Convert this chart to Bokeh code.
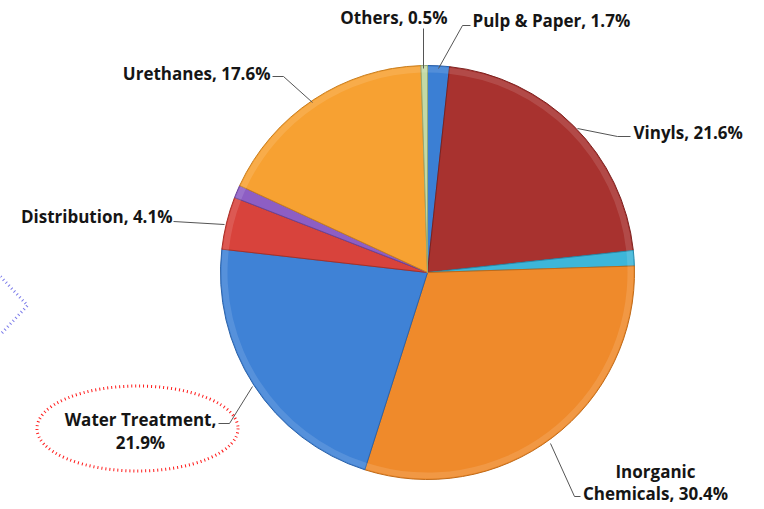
import math
from bokeh.plotting import figure
from bokeh.models import Range1d, ColumnDataSource
from bokeh.core.properties import value
from bokeh.embed import file_html
from bokeh.resources import INLINE

# ---- data ----
segments = ["Pulp & Paper", "Vinyls", "Other A", "Inorganic Chemicals", "Water Treatment",
            "Distribution", "Other B", "Urethanes", "Others"]
shares = [1.7, 21.6, 1.2, 30.4, 21.9, 4.1, 1.0, 17.6, 0.5]
colors = ["#3b7fd4", "#a8322f", "#3db6d9", "#ef8a2b", "#3f82d6",
          "#d8433c", "#8d5ec4", "#f7a132", "#c3d9a6"]
edge_colors = ["#2a5fa8", "#7d2220", "#2a8aaa", "#c06a18", "#2c62a8",
               "#a83028", "#6a4498", "#c87e20", "#93aa78"]

label_texts = {
    "Others": ["Others, 0.5%"],
    "Pulp & Paper": ["Pulp & Paper, 1.7%"],
    "Urethanes": ["Urethanes, 17.6%"],
    "Distribution": ["Distribution, 4.1%"],
    "Vinyls": ["Vinyls, 21.6%"],
    "Water Treatment": ["Water Treatment,", "21.9%"],
    "Inorganic Chemicals": ["Inorganic", "Chemicals, 30.4%"],
}

W, H = 760, 505
IMG_H = 509

def Y(img_y):
    return IMG_H - img_y

p = figure(width=W, height=H, output_backend="svg", toolbar_location=None,
           x_range=Range1d(0, W), y_range=Range1d(IMG_H - H, IMG_H),
           min_border=0)
p.axis.visible = False
p.grid.visible = False
p.outline_line_color = None
p.background_fill_color = "white"

cx, cy, r = 427, Y(272), 207

starts, ends = [], []
cum = 0.0
total = sum(shares)
for s in shares:
    a0 = math.pi / 2 - 2 * math.pi * cum / total
    cum += s
    a1 = math.pi / 2 - 2 * math.pi * cum / total
    starts.append(a0)
    ends.append(a1)

src = ColumnDataSource(dict(start=starts, end=ends, color=colors, edge=edge_colors))
p.wedge(x=cx, y=cy, radius=r, start_angle="start", end_angle="end", direction="clock",
        fill_color="color", line_color="edge", line_width=1, source=src)
# subtle bevel highlight near the rim
p.annular_wedge(x=cx, y=cy, inner_radius=r - 7, outer_radius=r - 1, start_angle="start",
                end_angle="end", direction="clock", fill_color="white", fill_alpha=0.12,
                line_color=None, source=src)

# leader lines
leaders = [
    ([423, 423], [28, 68]),
    ([470, 462, 438], [25, 25, 68]),
    ([272, 283, 312], [76, 76, 102]),
    ([173, 224], [221, 224]),
    ([630, 617, 577], [136, 136, 128]),
    ([218, 229, 252], [423, 423, 386]),
    ([580, 574, 550], [496, 496, 443]),
]
p.multi_line(xs=[l[0] for l in leaders], ys=[[Y(v) for v in l[1]] for l in leaders],
             line_color="#555555", line_width=1)

font = value("Open Sans")
fs = "17px"
def txt(x, y, s, align):
    p.text(x=[x], y=[Y(y)], text=[s], text_font=font, text_font_size=fs,
           text_font_style="bold", text_align=align, text_baseline="middle",
           text_color="#151515")

txt(447, 17, label_texts["Others"][0], "right")
txt(472, 20, label_texts["Pulp & Paper"][0], "left")
txt(270, 73, label_texts["Urethanes"][0], "right")
txt(172, 216, label_texts["Distribution"][0], "right")
txt(633, 132, label_texts["Vinyls"][0], "left")
txt(140, 419, label_texts["Water Treatment"][0], "center")
txt(140, 442, label_texts["Water Treatment"][1], "center")
txt(655, 471, label_texts["Inorganic Chemicals"][0], "center")
txt(655, 493, label_texts["Inorganic Chemicals"][1], "center")

# red dotted ellipse round the Water Treatment label
p.ellipse(x=137, y=Y(428), width=201, height=85, fill_color=None,
          line_color="#ff1a1a", line_width=3, line_dash="1 3")

# dotted diamond edge on the left
p.line(x=[0, 27, 0], y=[Y(276), Y(305), Y(334)], line_color="#7b7bea",
       line_width=3, line_dash="1 3")

open("out.html", "w").write(file_html(p, INLINE))
